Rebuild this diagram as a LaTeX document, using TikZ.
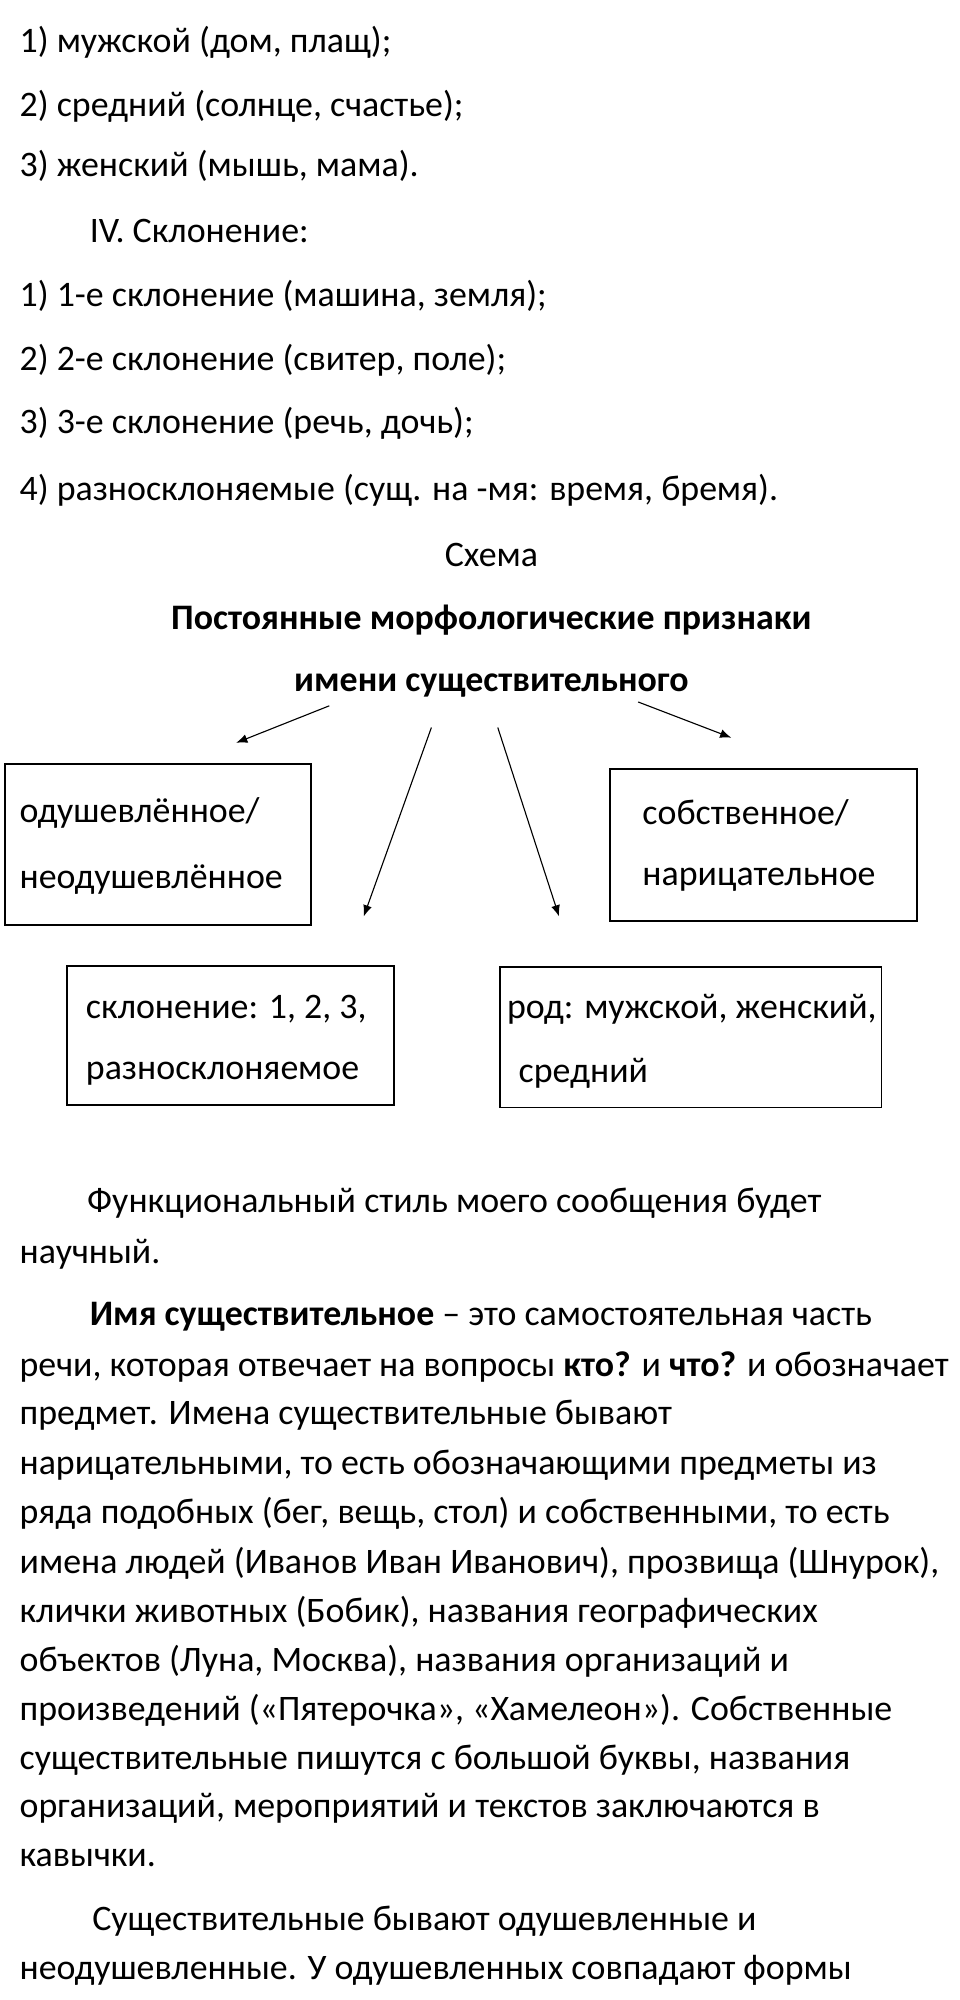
\documentclass[tikz,border=0pt]{standalone}
\usepackage{fontspec}
\setmainfont{Carlito}
\usetikzlibrary{arrows.meta}
\tikzset{
  txt/.style={anchor=west, inner sep=0pt, font=\fontsize{16}{19}\selectfont},
  mid/.style={anchor=center, inner sep=0pt, font=\fontsize{16}{19}\selectfont},
  box/.style={draw, line width=0.8pt, anchor=north west, inner sep=0pt},
  arr/.style={-{Latex[length=5pt,width=4pt]}, line width=0.5pt}
}
\begin{document}
\begin{tikzpicture}[x=0.02cm, y=-0.02cm]
\useasboundingbox (0,0) rectangle (752,1567);
\node[txt] (l1) at (15,33) {1) мужской (дом, плащ);};
\node[txt] (l2) at (15,83) {2) средний (солнце, счастье);};
\node[txt] (l3) at (15,130) {3) женский (мышь, мама).};
\node[txt] (iv) at (70,181) {IV. Склонение:};
\node[txt] (s1) at (15,232) {1) 1-е склонение (машина, земля);};
\node[txt] (s2) at (15,282) {2) 2-е склонение (свитер, поле);};
\node[txt] (s3) at (15,332) {3) 3-е склонение (речь, дочь);};
\node[txt] (s4) at (15,384) {4) разносклоняемые (сущ. на -мя: время, бремя).};
\node[mid] (schema) at (385,435) {Схема};
\node[mid, font=\fontsize{16}{19}\selectfont\bfseries] (title1) at (385,486) {Постоянные морфологические признаки};
\node[mid, font=\fontsize{16}{19}\selectfont\bfseries] (title2) at (385,537) {имени существительного};
% boxes
\node[box, minimum width=240*0.02cm, minimum height=126*0.02cm] (anim) at (3,598) {};
\node[txt] (anim1) at (15,637) {одушевлённое/};
\node[txt] (anim2) at (15,689) {неодушевлённое};
\node[box, minimum width=241*0.02cm, minimum height=119*0.02cm] (prop) at (477,602) {};
\node[txt] (prop1) at (503,637) {собственное/};
\node[txt] (prop2) at (503,689) {нарицательное};
\node[box, minimum width=256*0.02cm, minimum height=109*0.02cm] (decl) at (52,756) {};
\node[txt] (decl1) at (67,791) {склонение: 1, 2, 3,};
\node[txt] (decl2) at (67,841) {разносклоняемое};
\node[box, minimum width=299*0.02cm, minimum height=110*0.02cm] (gend) at (391,757) {};
\node[txt] (gend1) at (397,791) {род: мужской, женский,};
\node[txt] (gend2) at (406,841) {средний};
% arrows
\coordinate (a1s) at (258,553); \coordinate (a1e) at (185,582);
\coordinate (a2s) at (338,570); \coordinate (a2e) at (285,718);
\coordinate (a3s) at (390,570); \coordinate (a3e) at (438,718);
\coordinate (a4s) at (500,550); \coordinate (a4e) at (573,578);
\draw[arr] (a1s) -- (a1e);
\draw[arr] (a2s) -- (a2e);
\draw[arr] (a3s) -- (a3e);
\draw[arr] (a4s) -- (a4e);
% text
\node[txt] (p1) at (68,943) {Функциональный стиль моего сообщения будет};
\node[txt] (p2) at (15,983) {научный.};
\node[txt] (p3) at (70,1032) {\textbf{Имя существительное} – это самостоятельная часть};
\node[txt] (p4) at (15,1071) {речи, которая отвечает на вопросы \textbf{кто?} и \textbf{что?} и обозначает};
\node[txt] (p5) at (15,1109) {предмет. Имена существительные бывают};
\node[txt] (p6) at (15,1148) {нарицательными, то есть обозначающими предметы из};
\node[txt] (p7) at (15,1186) {ряда подобных (бег, вещь, стол) и собственными, то есть};
\node[txt] (p8) at (15,1225) {имена людей (Иванов Иван Иванович), прозвища (Шнурок),};
\node[txt] (p9) at (15,1263) {клички животных (Бобик), названия географических};
\node[txt] (p10) at (15,1302) {объектов (Луна, Москва), названия организаций и};
\node[txt] (p11) at (15,1340) {произведений («Пятерочка», «Хамелеон»). Собственные};
\node[txt] (p12) at (15,1379) {существительные пишутся с большой буквы, названия};
\node[txt] (p13) at (15,1417) {организаций, мероприятий и текстов заключаются в};
\node[txt] (p14) at (15,1456) {кавычки.};
\node[txt] (p15) at (72,1505) {Существительные бывают одушевленные и};
\node[txt] (p16) at (15,1544) {неодушевленные. У одушевленных совпадают формы};
\end{tikzpicture}
\end{document}
